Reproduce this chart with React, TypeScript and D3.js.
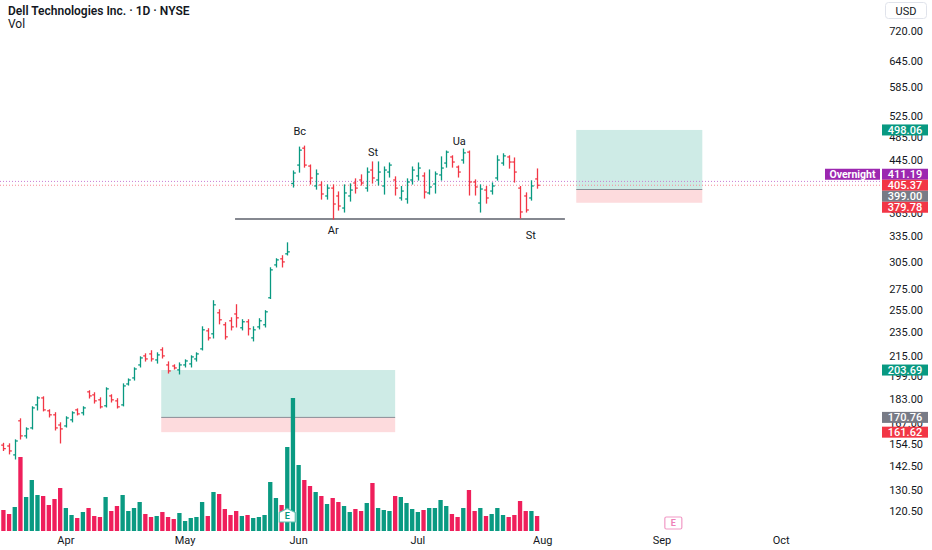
import * as d3 from 'd3'

// daily OHLC, oldest first (bar index 0 = mid March)
const opens = [
  154.0, 153.5, 148.5, 168.6, 159.4, 164.2, 178.9, 183.6, 175.0, 172.4,
  166.0, 165.4, 169.2, 175.6, 173.7, 187.8, 185.7, 182.3, 178.3, 185.0,
  181.6, 178.9, 193.4, 197.8, 207.6, 214.7, 216.3, 211.5, 219.6, 207.6,
  206.8, 203.8, 207.6, 208.4, 212.3, 220.4, 235.7, 233.1, 252.1, 241.1,
  244.7, 251.0, 238.4, 243.8, 229.6, 239.2, 241.1, 266.6, 301.3, 308.2,
  314.0, 408.0, 437.0, 465.4, 435.4, 404.3, 405.8, 389.5, 401.1, 389.5,
  372.4, 389.5, 408.8, 413.4, 401.1, 429.0, 413.4, 404.3, 425.8, 413.4,
  386.6, 385.1, 413.4, 419.7, 419.7, 393.9, 407.3, 421.2, 440.3, 450.4,
  433.8, 445.3, 458.6, 410.3, 379.4, 398.2, 396.7, 416.5, 440.3, 450.4,
  442.0, 401.1, 389.5, 386.6, 415.0,
]
const highs = [
  155.0, 154.7, 157.0, 169.8, 164.2, 177.6, 184.3, 184.3, 175.6, 173.7,
  167.3, 171.1, 174.3, 176.2, 177.6, 188.5, 187.1, 183.6, 190.6, 185.7,
  183.0, 193.4, 197.0, 205.3, 213.9, 216.3, 218.8, 217.1, 221.2, 209.9,
  207.6, 209.1, 211.5, 214.7, 217.1, 239.2, 237.5, 263.6, 254.9, 242.9,
  247.4, 259.7, 245.6, 245.6, 239.2, 246.5, 254.0, 298.0, 308.2, 311.7,
  327.0, 427.4, 467.1, 468.8, 437.0, 429.0, 410.3, 405.8, 405.8, 395.3,
  405.8, 407.3, 415.0, 421.2, 432.2, 442.0, 442.0, 433.8, 440.3, 418.1,
  403.3, 415.0, 433.8, 440.3, 424.3, 429.0, 425.8, 450.4, 460.3, 452.2,
  435.4, 463.7, 460.3, 413.4, 405.8, 403.3, 408.8, 452.2, 455.6, 452.2,
  448.6, 403.3, 393.9, 412.0, 430.6,
]
const lows = [
  151.0, 149.1, 146.3, 157.6, 158.2, 163.6, 175.6, 175.0, 171.1, 163.0,
  155.3, 164.8, 168.0, 172.4, 172.4, 183.6, 180.2, 176.9, 177.6, 180.9,
  176.9, 178.3, 192.7, 196.3, 206.1, 210.7, 210.7, 209.1, 213.1, 201.5,
  204.5, 200.8, 206.1, 206.1, 210.7, 219.6, 227.9, 229.6, 242.0, 228.7,
  236.6, 239.2, 236.6, 232.2, 227.1, 237.5, 239.2, 266.0, 299.1, 299.1,
  312.8, 402.8, 425.8, 433.8, 407.3, 399.7, 385.1, 385.1, 357.6, 369.7,
  367.0, 382.3, 393.9, 405.8, 396.7, 408.8, 405.8, 392.4, 418.1, 391.0,
  383.7, 379.4, 407.3, 413.4, 386.6, 392.4, 393.9, 413.4, 433.8, 433.8,
  418.1, 440.3, 391.0, 391.0, 367.0, 379.4, 392.4, 413.4, 437.0, 432.2,
  410.3, 358.9, 367.0, 383.7, 401.1,
]
const closes = [
  152.0, 150.7, 156.4, 159.4, 163.6, 176.9, 183.6, 175.6, 172.4, 164.2,
  163.6, 170.4, 173.7, 173.0, 176.9, 185.0, 181.6, 177.6, 189.9, 182.3,
  177.6, 192.0, 196.3, 204.5, 213.1, 212.3, 212.3, 215.5, 214.7, 203.0,
  205.3, 207.6, 210.7, 213.9, 216.3, 236.6, 229.6, 259.7, 245.6, 230.5,
  239.2, 247.4, 243.8, 237.5, 236.6, 244.7, 253.0, 295.8, 307.0, 304.7,
  316.3, 424.3, 462.0, 437.0, 416.5, 422.8, 392.4, 401.1, 378.0, 375.2,
  393.9, 398.2, 401.1, 408.8, 425.8, 416.5, 425.8, 429.0, 437.0, 401.1,
  396.7, 410.3, 429.0, 432.2, 395.3, 402.8, 422.8, 432.2, 458.6, 442.0,
  425.8, 457.3, 410.3, 402.8, 399.7, 386.6, 404.3, 445.3, 452.2, 442.0,
  425.8, 367.0, 369.7, 404.3, 405.37,
]
// volume, millions
const volumes = [
  2.1, 1.7, 2.4, 7.4, 3.4, 5.1, 3.6, 3.5, 2.6, 3.2,
  4.3, 2.3, 1.6, 1.3, 1.9, 2.3, 1.5, 1.4, 3.4, 2.0,
  2.5, 3.6, 2.0, 2.3, 2.9, 1.7, 1.4, 1.5, 1.9, 1.4,
  1.2, 1.8, 1.0, 1.3, 1.4, 2.9, 1.5, 3.9, 3.7, 2.2,
  1.6, 2.0, 1.5, 1.6, 1.3, 1.4, 1.6, 4.9, 3.3, 2.6,
  8.4, 13.3, 6.6, 5.1, 4.5, 3.9, 3.5, 2.7, 3.3, 2.9,
  2.5, 1.9, 2.2, 2.0, 2.8, 4.8, 2.3, 2.1, 2.0, 3.5,
  3.4, 2.8, 2.2, 1.9, 2.1, 2.3, 2.3, 3.1, 2.5, 1.7,
  1.4, 2.3, 4.1, 2.0, 2.3, 1.5, 1.7, 2.3, 1.6, 1.4,
  1.6, 3.0, 2.0, 2.0, 1.5,
]

const monthLabels = ['Apr', 'May', 'Jun', 'Jul', 'Aug', 'Sep', 'Oct']
const monthBars = [11, 32, 52, 73, 95, 116, 137]

const priceTicks = [720, 645, 585, 525, 485, 445, 365, 335, 305, 275, 255, 235, 215, 199, 183, 167, 154.5, 142.5, 130.5, 120.5]

// position tool drawings: [start bar, end bar, target, entry, stop]
const positionBoxes = [
  { from: 27.8, to: 69.0, target: 203.69, entry: 170.76, stop: 161.62 },
  { from: 100.9, to: 123.1, target: 498.06, entry: 399.0, stop: 379.78 },
]
const supportLine = { from: 40.8, to: 98.9, price: 357.5 }

const annotations = [
  { text: 'Bc', bar: 52.2, price: 496 },
  { text: 'St', bar: 65.1, price: 458.6 },
  { text: 'Ua', bar: 80.3, price: 477 },
  { text: 'Ar', bar: 58.1, price: 341.9 },
  { text: 'St', bar: 92.9, price: 336.8 },
]

const earningsBars = [50, 118]

const lastPrice = 405.37
const overnightPrice = 411.19
const priceLabels = [
  { price: 498.06, color: '#089981' },
  { price: 411.19, color: '#9c27b0' },
  { price: 405.37, color: '#f23645' },
  { price: 399.0, color: '#787b86' },
  { price: 379.78, color: '#f23645' },
  { price: 203.69, color: '#089981' },
  { price: 170.76, color: '#787b86' },
  { price: 161.62, color: '#f23645' },
]

const UP = '#089981'
const DOWN = '#f23645'
const VOL_UP = '#0a9a82'
const VOL_DOWN = '#ef1f5b'
const FONT = 'Roboto, "Noto Sans", sans-serif'

export default function App() {
  const plotRight = 880
  const x = d3.scaleLinear().domain([-0.6, 154.4]).range([0, plotRight])
  const y = d3.scaleLog().domain([120.5, 720]).range([511, 31])
  const yVol = d3.scaleLinear().domain([0, d3.max(volumes) as number]).range([531, 398])
  const step = x(1) - x(0)

  // push price labels apart, last price stays put
  const LH = 11
  const anchorY = y(lastPrice)
  const placed: { price: number; color: string; cy: number }[] = []
  let prev = anchorY
  priceLabels.filter(d => d.price > lastPrice).sort((a, b) => a.price - b.price).forEach(d => {
    const cy = Math.min(y(d.price), prev - LH)
    placed.push({ ...d, cy })
    prev = cy
  })
  placed.push({ price: lastPrice, color: DOWN, cy: anchorY })
  prev = anchorY
  priceLabels.filter(d => d.price < lastPrice).sort((a, b) => b.price - a.price).forEach(d => {
    const cy = Math.max(y(d.price), prev + LH)
    placed.push({ ...d, cy })
    prev = cy
  })
  const overnightLabel = placed.find(d => d.price === overnightPrice)!

  return (
    <svg width={932} height={550} style={{ position: 'absolute', left: 0, top: 0, fontFamily: FONT }}>
      <rect width={932} height={550} fill="#ffffff" />

      {/* header */}
      <text x={8} y={15} fontSize={12} fontWeight={600} fill="#131722">Dell Technologies Inc. · 1D · NYSE</text>
      <text x={8} y={28} fontSize={12} fill="#131722">Vol</text>

      {/* position boxes */}
      {positionBoxes.map((b, i) => (
        <g key={i}>
          <rect x={x(b.from)} width={x(b.to) - x(b.from)} y={y(b.target)} height={y(b.entry) - y(b.target)} fill="rgba(8,153,129,0.2)" />
          <rect x={x(b.from)} width={x(b.to) - x(b.from)} y={y(b.entry)} height={y(b.stop) - y(b.entry)} fill="rgba(242,54,69,0.18)" />
          <line x1={x(b.from)} x2={x(b.to)} y1={y(b.entry)} y2={y(b.entry)} stroke="#8a8d96" strokeWidth={1} />
        </g>
      ))}

      {/* volume */}
      {volumes.map((v, i) => (
        <rect key={i} x={x(i) - step * 0.38} width={step * 0.76} y={yVol(v)} height={yVol(0) - yVol(v)}
          fill={closes[i] >= opens[i] ? VOL_UP : VOL_DOWN} />
      ))}

      {/* dotted price lines */}
      <line x1={0} x2={plotRight} y1={y(overnightPrice)} y2={y(overnightPrice)} stroke="#c77dd6" strokeDasharray="1 2" />
      <line x1={0} x2={plotRight} y1={y(lastPrice)} y2={y(lastPrice)} stroke="#f58a95" strokeDasharray="1 2" />

      {/* support line */}
      <line x1={x(supportLine.from)} x2={x(supportLine.to)} y1={y(supportLine.price)} y2={y(supportLine.price)} stroke="#5d606b" strokeWidth={1.5} />

      {/* OHLC bars */}
      {opens.map((o, i) => {
        const c = closes[i]
        const col = c >= o ? UP : DOWN
        const cx = Math.round(x(i)) + 0.5
        return (
          <g key={i} stroke={col} strokeWidth={1.3}>
            <line x1={cx} x2={cx} y1={y(highs[i]) - 0.6} y2={y(lows[i]) + 0.6} />
            <line x1={cx - 2.3} x2={cx} y1={y(o)} y2={y(o)} />
            <line x1={cx} x2={cx + 2.3} y1={y(c)} y2={y(c)} />
          </g>
        )
      })}

      {/* wyckoff labels */}
      {annotations.map((a, i) => (
        <text key={i} x={x(a.bar)} y={y(a.price)} fontSize={11} fill="#131722" textAnchor="middle" dominantBaseline="central">{a.text}</text>
      ))}

      {/* earnings markers */}
      {earningsBars.map((b, i) => {
        const cx = x(b)
        if (i === 0) {
          return (
            <g key={i}>
              <path d={`M${cx - 8},522 L${cx - 8},512.5 L${cx},508.5 L${cx + 8},512.5 L${cx + 8},522 Z`} fill="#ffffff" stroke="#5cc0ae" strokeWidth={1.2} />
              <text x={cx} y={516} fontSize={9} fontWeight={700} fill="#089981" textAnchor="middle" dominantBaseline="central">E</text>
            </g>
          )
        }
        return (
          <g key={i}>
            <rect x={cx - 8.5} y={517} width={17} height={12} rx={1.5} fill="#ffffff" stroke="#f19ac6" strokeWidth={1.2} />
            <text x={cx} y={523} fontSize={9} fontWeight={700} fill="#ee80b8" textAnchor="middle" dominantBaseline="central">E</text>
          </g>
        )
      })}

      {/* time axis */}
      {monthLabels.map((m, i) => (
        <text key={m} x={x(monthBars[i])} y={544} fontSize={11} fill="#131722" textAnchor="middle">{m}</text>
      ))}

      {/* price axis */}
      <rect x={885.5} y={2.5} width={41} height={16} rx={3} fill="#ffffff" stroke="#e0e3eb" />
      <text x={906} y={14.5} fontSize={11} fill="#131722" textAnchor="middle">USD</text>
      {priceTicks.map(t => (
        <text key={t} x={923} y={y(t) + 4} fontSize={11} fill="#131722" textAnchor="end">{t.toFixed(2)}</text>
      ))}
      {placed.map(d => (
        <g key={d.price}>
          <rect x={882} y={d.cy - 5.5} width={46} height={11} fill={d.color} />
          <text x={905} y={d.cy + 0.5} fontSize={11} fontWeight={500} fill="#ffffff" textAnchor="middle" dominantBaseline="central">{d.price.toFixed(2)}</text>
        </g>
      ))}
      <rect x={825} y={overnightLabel.cy - 5.5} width={55} height={11} fill="#9c27b0" />
      <text x={852.5} y={overnightLabel.cy + 0.5} fontSize={10.5} fontWeight={700} fill="#ffffff" textAnchor="middle" dominantBaseline="central">Overnight</text>
    </svg>
  )
}
